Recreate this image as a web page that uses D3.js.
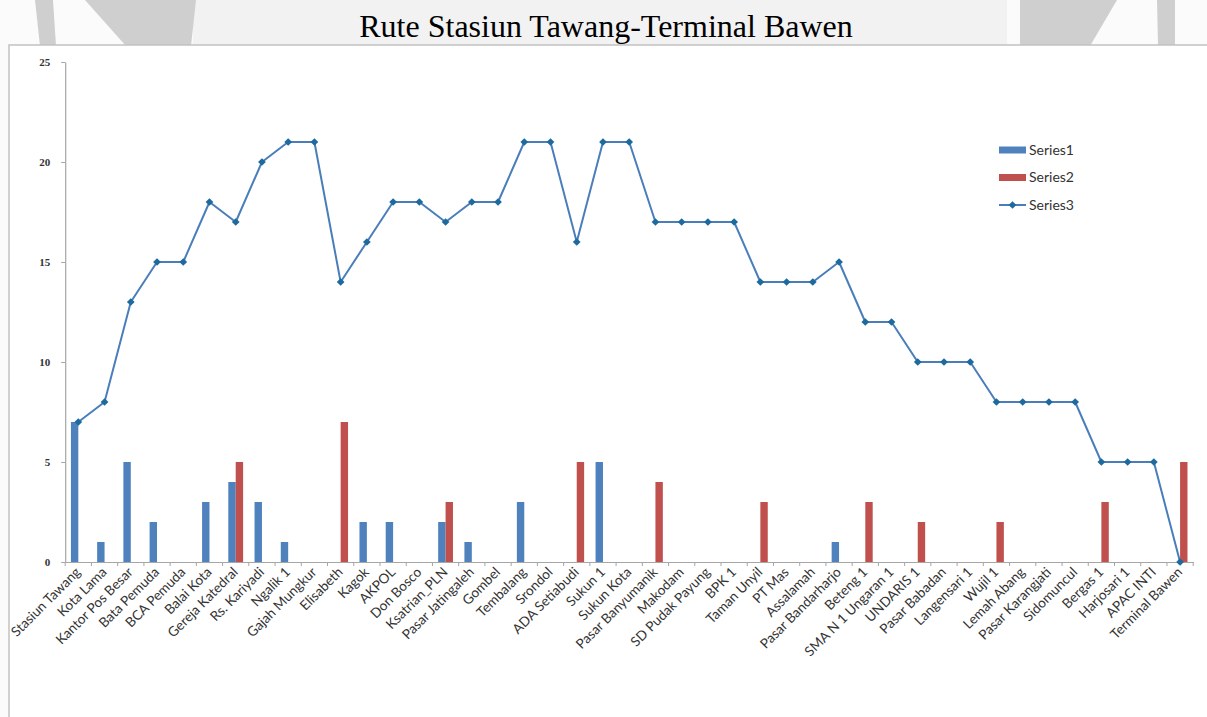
<!DOCTYPE html>
<html>
<head>
<meta charset="utf-8">
<script src="https://cdn.jsdelivr.net/npm/d3@7"></script>
<style>
  html, body { margin: 0; padding: 0; background: #ffffff; }
  svg { display: block; }
</style>
</head>
<body>
<svg id="chart" width="1207" height="717"></svg>
<script>
// ---- data ----
const categories = [
  "Stasiun Tawang","Kota Lama","Kantor Pos Besar","Bata Pemuda","BCA Pemuda","Balai Kota",
  "Gereja Katedral","Rs. Kariyadi","Ngalik 1","Gajah Mungkur","Elisabeth","Kagok","AKPOL",
  "Don Bosco","Ksatrian_PLN","Pasar Jatingaleh","Gombel","Tembalang","Srondol","ADA Setiabudi",
  "Sukun 1","Sukun Kota","Pasar Banyumanik","Makodam","SD Pudak Payung","BPK 1","Taman Unyil",
  "PT Mas","Assalamah","Pasar Bandarharjo","Beteng 1","SMA N 1 Ungaran 1","UNDARIS 1",
  "Pasar Babadan","Langensari 1","Wujil 1","Lemah Abang","Pasar Karangjati","Sidomuncul",
  "Bergas 1","Harjosari 1","APAC INTI","Terminal Bawen"
];
const series1 = [7,1,5,2,0,3,4,3,1,0,0,2,2,0,2,1,0,3,0,0,5,0,0,0,0,0,0,0,0,1,0,0,0,0,0,0,0,0,0,0,0,0,0];
const series2 = [0,0,0,0,0,0,5,0,0,0,7,0,0,0,3,0,0,0,0,5,0,0,4,0,0,0,3,0,0,0,3,0,2,0,0,2,0,0,0,3,0,0,5];
const series3 = [7,8,13,15,15,18,17,20,21,21,14,16,18,18,17,18,18,21,21,16,21,21,17,17,17,17,14,14,14,15,12,12,10,10,10,8,8,8,8,5,5,5,0];
const seriesNames = ["Series1","Series2","Series3"];
const yTicks = [0,5,10,15,20,25];
const titleText = "Rute Stasiun Tawang-Terminal Bawen";

// ---- style ----
const C1 = "#4F81BD", C2 = "#C0504D", CL = "#4A7EBB", CM = "#1D6A9E";
const labelFont = "Lato, 'Open Sans', sans-serif";

const svg = d3.select("#chart");

// page background with faint watermark shapes above the chart box
svg.append("rect").attr("x",0).attr("y",0).attr("width",1207).attr("height",717).attr("fill","#fbfbfb");
svg.append("rect").attr("x",193).attr("y",0).attr("width",814).attr("height",46).attr("fill","#f2f2f2");
const wm = [
  [[35,0],[53,0],[56,46],[40,46]],
  [[85,0],[196,0],[191,46],[126,46]],
  [[1020,0],[1117,0],[1090,46],[1020,46]],
  [[1157,0],[1175,0],[1175,46],[1158,46]]
];
svg.selectAll("polygon.wm").data(wm).enter().append("polygon")
  .attr("class","wm")
  .attr("points", d => d.map(p => p.join(",")).join(" "))
  .attr("fill","#cfcfcf");

// title
svg.append("text")
  .attr("x", 606).attr("y", 37)
  .attr("text-anchor","middle")
  .attr("font-family","'Liberation Serif', 'Times New Roman', serif")
  .attr("font-size", 32)
  .attr("fill","#000")
  .text(titleText);

// chart box
svg.append("rect")
  .attr("x", 9).attr("y", 45).attr("width", 1400).attr("height", 900)
  .attr("fill","#ffffff").attr("stroke","#c2c2c2").attr("stroke-width",1.5);

// scales
const x = d3.scaleBand().domain(categories).range([65.2, 1193.2]).padding(0);
const y = d3.scaleLinear().domain([0,25]).range([562,62]);
const bw = 7.4;

// y axis
const yAxis = d3.axisLeft(y).tickValues(yTicks).tickSize(4).tickSizeOuter(0).tickPadding(11);
const gy = svg.append("g").attr("transform","translate(65.2,0)").call(yAxis);
gy.select(".domain").attr("stroke","#a6a6a6").attr("stroke-width",1.2);
gy.selectAll(".tick line").attr("stroke","#a6a6a6");
gy.selectAll(".tick text")
  .attr("font-family","'Liberation Serif', serif")
  .attr("font-weight","bold")
  .attr("font-size",11)
  .attr("fill","#333");

// x axis (line + boundary ticks)
const xAxis = d3.axisBottom(x).tickSize(0).tickSizeOuter(0).tickFormat("");
const gx = svg.append("g").attr("transform","translate(0,562)").call(xAxis);
gx.select(".domain").attr("stroke","#a6a6a6").attr("stroke-width",1.2);
const bounds = categories.map(c => x(c)).concat([x.range()[1]]);
svg.append("g").selectAll("line").data(bounds).enter().append("line")
  .attr("x1", d => d).attr("x2", d => d)
  .attr("y1", 562).attr("y2", 566)
  .attr("stroke","#a6a6a6");

// bars
const cx = c => x(c) + x.bandwidth()/2;
svg.append("g").selectAll("rect").data(categories.map((c,i)=>({c, v:series1[i]})).filter(d=>d.v>0))
  .enter().append("rect")
  .attr("x", d => cx(d.c) - bw).attr("width", bw)
  .attr("y", d => y(d.v)).attr("height", d => y(0) - y(d.v))
  .attr("fill", C1);
svg.append("g").selectAll("rect").data(categories.map((c,i)=>({c, v:series2[i]})).filter(d=>d.v>0))
  .enter().append("rect")
  .attr("x", d => cx(d.c)).attr("width", bw)
  .attr("y", d => y(d.v)).attr("height", d => y(0) - y(d.v))
  .attr("fill", C2);

// line
const lineData = categories.map((c,i)=>({c, v:series3[i]}));
svg.append("path").datum(lineData)
  .attr("d", d3.line().x(d => cx(d.c)).y(d => y(d.v)))
  .attr("fill","none").attr("stroke", CL).attr("stroke-width", 2).attr("stroke-linejoin","round");
const diamond = d3.symbol().type(d3.symbolDiamond2).size(38);
svg.append("g").selectAll("path").data(lineData).enter().append("path")
  .attr("d", diamond)
  .attr("transform", d => `translate(${cx(d.c)},${y(d.v)})`)
  .attr("fill", CM);

// x labels
svg.append("g").selectAll("text").data(categories).enter().append("text")
  .attr("transform", d => `translate(${cx(d)+3},573) rotate(-45)`)
  .attr("text-anchor","end")
  .attr("font-family", labelFont)
  .attr("font-size", 13.6)
  .attr("fill","#333")
  .text(d => d);

// legend
const lg = svg.append("g");
const legY = [150, 177.5, 205];
lg.append("rect").attr("x",999).attr("y",legY[0]-3.5).attr("width",27).attr("height",7).attr("fill",C1);
lg.append("rect").attr("x",999).attr("y",legY[1]-3.5).attr("width",27).attr("height",7).attr("fill",C2);
lg.append("line").attr("x1",999).attr("x2",1026).attr("y1",legY[2]).attr("y2",legY[2]).attr("stroke",CL).attr("stroke-width",2);
lg.append("path").attr("d",diamond).attr("transform",`translate(1012.5,${legY[2]})`).attr("fill",CM);
lg.selectAll("text").data(seriesNames).enter().append("text")
  .attr("x",1029).attr("y",(d,i)=>legY[i]).attr("dy","0.35em")
  .attr("font-family", labelFont).attr("font-size",14)
  .attr("fill","#333")
  .text(d => d);
</script>
</body>
</html>
